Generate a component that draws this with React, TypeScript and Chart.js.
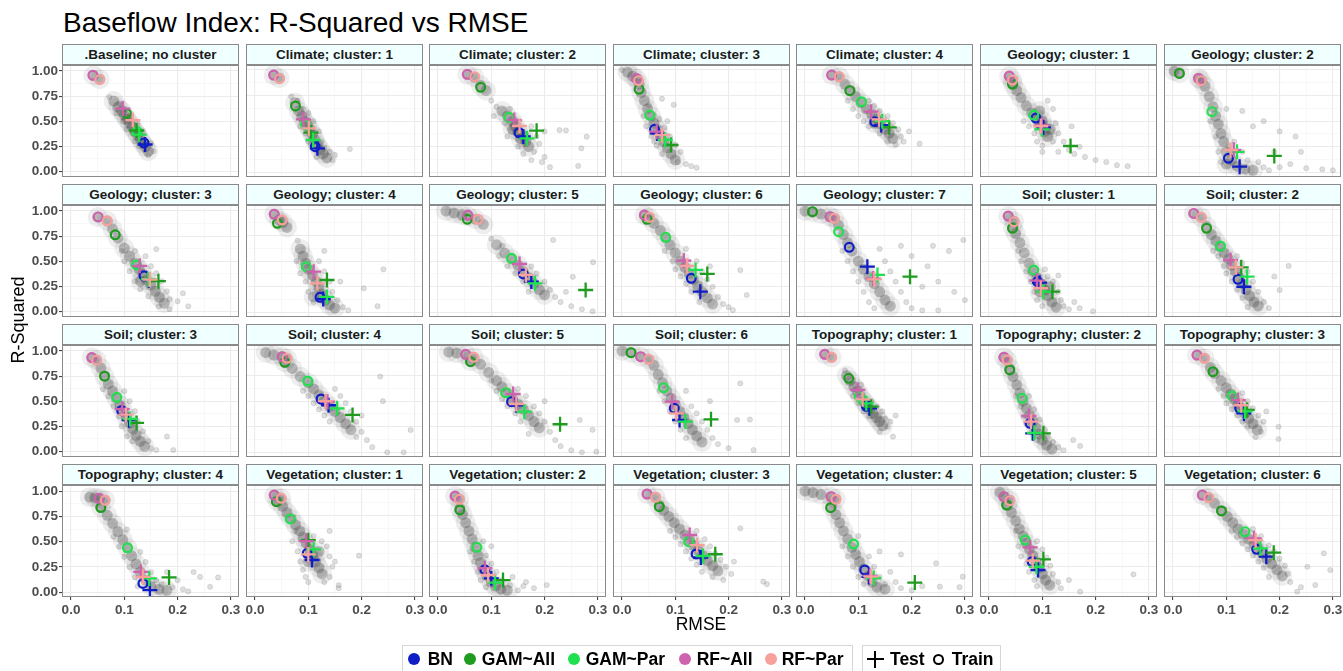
import React, { useEffect, useRef } from "react";
import { Chart, registerables } from "chart.js";
Chart.register(...registerables);

const PANEL_TITLES = [
  ".Baseline; no cluster", "Climate; cluster: 1", "Climate; cluster: 2", "Climate; cluster: 3", "Climate; cluster: 4", "Geology; cluster: 1", "Geology; cluster: 2",
  "Geology; cluster: 3", "Geology; cluster: 4", "Geology; cluster: 5", "Geology; cluster: 6", "Geology; cluster: 7", "Soil; cluster: 1", "Soil; cluster: 2",
  "Soil; cluster: 3", "Soil; cluster: 4", "Soil; cluster: 5", "Soil; cluster: 6", "Topography; cluster: 1", "Topography; cluster: 2", "Topography; cluster: 3",
  "Topography; cluster: 4", "Vegetation; cluster: 1", "Vegetation; cluster: 2", "Vegetation; cluster: 3", "Vegetation; cluster: 4", "Vegetation; cluster: 5", "Vegetation; cluster: 6",
];

const MODEL_NAMES = ["BN", "GAM~All", "GAM~Par", "RF~All", "RF~Par"];
const TYPE_NAMES = ["Test", "Train"];

const X_TICK_VALUES = [0, 0.1, 0.2, 0.3];
const X_TICK_LABELS = ["0.0", "0.1", "0.2", "0.3"];
const Y_TICK_VALUES = [0, 0.25, 0.5, 0.75, 1];
const Y_TICK_LABELS = ["0.00", "0.25", "0.50", "0.75", "1.00"];

// [RMSE, R-Squared] per panel
const BN_TRAIN = [
  [0.137, 0.283], [0.113, 0.25], [0.152, 0.387], [0.061, 0.42], [0.131, 0.495], [0.088, 0.53], [0.104, 0.137],
  [0.137, 0.355], [0.122, 0.147], [0.16, 0.375], [0.13, 0.332], [0.083, 0.635], [0.091, 0.3], [0.122, 0.322],
  [0.095, 0.407], [0.124, 0.521], [0.138, 0.495], [0.098, 0.43], [0.115, 0.45], [0.077, 0.283], [0.125, 0.43],
  [0.135, 0.088], [0.098, 0.381], [0.088, 0.22], [0.139, 0.375], [0.112, 0.218], [0.081, 0.3], [0.157, 0.42],
];
const BN_TEST = [
  [0.139, 0.267], [0.117, 0.234], [0.16, 0.35], [0.066, 0.38], [0.143, 0.462], [0.102, 0.44], [0.125, 0.055],
  [0.146, 0.31], [0.128, 0.13], [0.175, 0.3], [0.147, 0.202], [0.117, 0.446], [0.095, 0.29], [0.133, 0.25],
  [0.109, 0.31], [0.138, 0.46], [0.147, 0.46], [0.108, 0.316], [0.121, 0.43], [0.082, 0.186], [0.133, 0.38],
  [0.148, 0.022], [0.107, 0.316], [0.1, 0.137], [0.148, 0.34], [0.12, 0.15], [0.092, 0.218], [0.175, 0.348],
];
const GAM_ALL_TRAIN = [
  [0.104, 0.577], [0.076, 0.648], [0.08, 0.831], [0.032, 0.811], [0.084, 0.798], [0.044, 0.863], [0.012, 0.967],
  [0.083, 0.762], [0.042, 0.87], [0.055, 0.909], [0.047, 0.909], [0.014, 0.984], [0.044, 0.821], [0.063, 0.821],
  [0.063, 0.749], [0.056, 0.88], [0.061, 0.886], [0.017, 0.974], [0.082, 0.723], [0.039, 0.805], [0.075, 0.788],
  [0.056, 0.837], [0.04, 0.886], [0.041, 0.805], [0.07, 0.837], [0.048, 0.827], [0.033, 0.853], [0.091, 0.795],
];
const GAM_ALL_TEST = [
  [0.123, 0.407], [0.105, 0.387], [0.185, 0.407], [0.092, 0.267], [0.158, 0.44], [0.153, 0.257], [0.19, 0.16],
  [0.164, 0.3], [0.135, 0.316], [0.277, 0.218], [0.16, 0.375], [0.197, 0.348], [0.119, 0.202], [0.128, 0.44],
  [0.123, 0.283], [0.183, 0.365], [0.229, 0.274], [0.167, 0.322], [0.124, 0.446], [0.102, 0.186], [0.139, 0.414],
  [0.184, 0.147], [0.1, 0.51], [0.122, 0.12], [0.175, 0.372], [0.206, 0.095], [0.102, 0.322], [0.189, 0.387],
];
const GAM_PAR_TRAIN = [
  [0.124, 0.397], [0.095, 0.462], [0.133, 0.538], [0.052, 0.56], [0.106, 0.69], [0.084, 0.56], [0.073, 0.593],
  [0.123, 0.462], [0.096, 0.446], [0.138, 0.528], [0.082, 0.733], [0.063, 0.788], [0.084, 0.414], [0.089, 0.648],
  [0.086, 0.538], [0.099, 0.697], [0.127, 0.583], [0.078, 0.632], [0.102, 0.544], [0.062, 0.528], [0.111, 0.55],
  [0.106, 0.44], [0.066, 0.717], [0.073, 0.44], [0.125, 0.495], [0.091, 0.472], [0.068, 0.511], [0.135, 0.593],
];
const GAM_PAR_TEST = [
  [0.128, 0.365], [0.109, 0.316], [0.167, 0.332], [0.081, 0.316], [0.145, 0.5], [0.099, 0.42], [0.12, 0.2],
  [0.145, 0.32], [0.135, 0.15], [0.182, 0.283], [0.138, 0.414], [0.136, 0.365], [0.102, 0.202], [0.139, 0.348],
  [0.111, 0.322], [0.154, 0.43], [0.162, 0.397], [0.119, 0.3], [0.115, 0.479], [0.085, 0.19], [0.135, 0.4],
  [0.147, 0.137], [0.11, 0.42], [0.107, 0.095], [0.152, 0.355], [0.129, 0.14], [0.089, 0.25], [0.164, 0.43],
];
const RF_ALL_TRAIN = [
  [0.041, 0.958], [0.035, 0.951], [0.055, 0.958], [0.027, 0.918], [0.05, 0.951], [0.038, 0.941], [0.048, 0.918],
  [0.051, 0.941], [0.036, 0.958], [0.056, 0.951], [0.042, 0.951], [0.047, 0.935], [0.036, 0.941], [0.039, 0.967],
  [0.039, 0.935], [0.051, 0.935], [0.052, 0.958], [0.035, 0.935], [0.037, 0.958], [0.028, 0.928], [0.045, 0.951],
  [0.053, 0.928], [0.036, 0.951], [0.032, 0.941], [0.047, 0.961], [0.049, 0.935], [0.028, 0.935], [0.055, 0.951],
];
const RF_ALL_TEST = [
  [0.097, 0.625], [0.091, 0.518], [0.143, 0.511], [0.065, 0.397], [0.124, 0.593], [0.099, 0.462], [0.114, 0.22],
  [0.129, 0.453], [0.11, 0.397], [0.153, 0.472], [0.116, 0.505], [0.128, 0.33], [0.09, 0.31], [0.108, 0.511],
  [0.096, 0.42], [0.136, 0.495], [0.141, 0.57], [0.094, 0.495], [0.099, 0.609], [0.075, 0.355], [0.122, 0.511],
  [0.131, 0.202], [0.096, 0.501], [0.088, 0.235], [0.127, 0.56], [0.122, 0.16], [0.077, 0.44], [0.152, 0.528],
];
const RF_PAR_TRAIN = [
  [0.054, 0.915], [0.046, 0.915], [0.069, 0.935], [0.031, 0.896], [0.064, 0.935], [0.044, 0.902], [0.053, 0.896],
  [0.068, 0.902], [0.051, 0.902], [0.075, 0.909], [0.052, 0.928], [0.055, 0.919], [0.047, 0.886], [0.053, 0.928],
  [0.048, 0.909], [0.06, 0.919], [0.067, 0.928], [0.05, 0.909], [0.05, 0.928], [0.034, 0.902], [0.059, 0.919],
  [0.064, 0.909], [0.049, 0.919], [0.04, 0.909], [0.063, 0.928], [0.058, 0.909], [0.039, 0.896], [0.067, 0.925],
];
const RF_PAR_TEST = [
  [0.116, 0.511], [0.101, 0.43], [0.153, 0.453], [0.075, 0.365], [0.139, 0.518], [0.097, 0.45], [0.108, 0.218],
  [0.148, 0.316], [0.117, 0.283], [0.165, 0.365], [0.122, 0.453], [0.13, 0.322], [0.097, 0.235], [0.118, 0.44],
  [0.103, 0.365], [0.132, 0.5], [0.147, 0.472], [0.102, 0.381], [0.108, 0.518], [0.079, 0.3], [0.128, 0.46],
  [0.135, 0.153], [0.1, 0.37], [0.094, 0.169], [0.141, 0.462], [0.124, 0.153], [0.082, 0.309], [0.155, 0.51],
];

// resampled runs (grey cloud): dense band points
const CLOUD_CORE = [
  [[0.042,0.955],[0.054,0.918],[0.08,0.7],[0.088,0.64],[0.095,0.6],[0.1,0.56],[0.105,0.52],[0.11,0.48],[0.115,0.44],[0.12,0.4],[0.125,0.36],[0.13,0.32],[0.135,0.28],[0.14,0.24],[0.145,0.2]],
  [[0.035,0.95],[0.046,0.92],[0.075,0.68],[0.082,0.6],[0.088,0.55],[0.093,0.5],[0.098,0.46],[0.103,0.42],[0.108,0.37],[0.112,0.32],[0.117,0.27],[0.122,0.22],[0.128,0.18],[0.135,0.14]],
  [[0.055,0.955],[0.068,0.93],[0.08,0.85],[0.09,0.8],[0.12,0.6],[0.13,0.55],[0.14,0.5],[0.145,0.45],[0.15,0.4],[0.16,0.36],[0.165,0.3],[0.17,0.25],[0.155,0.33],[0.14,0.42]],
  [[0.01,0.98],[0.02,0.94],[0.027,0.915],[0.032,0.86],[0.036,0.78],[0.042,0.7],[0.048,0.62],[0.055,0.55],[0.06,0.48],[0.066,0.42],[0.072,0.36],[0.078,0.3],[0.085,0.24],[0.092,0.18],[0.1,0.12]],
  [[0.05,0.95],[0.064,0.935],[0.075,0.86],[0.085,0.8],[0.095,0.74],[0.105,0.68],[0.115,0.62],[0.125,0.57],[0.135,0.52],[0.142,0.47],[0.15,0.42],[0.158,0.38],[0.165,0.33],[0.13,0.48]],
  [[0.038,0.94],[0.044,0.9],[0.045,0.86],[0.052,0.8],[0.06,0.73],[0.07,0.65],[0.08,0.58],[0.09,0.52],[0.1,0.46],[0.105,0.4],[0.11,0.35],[0.1,0.5],[0.115,0.42],[0.095,0.6]],
  [[0.002,0.99],[0.012,0.97],[0.048,0.92],[0.053,0.9],[0.06,0.84],[0.068,0.74],[0.075,0.64],[0.08,0.55],[0.085,0.47],[0.09,0.38],[0.095,0.3],[0.1,0.2],[0.11,0.12],[0.12,0.06],[0.135,0.03],[0.15,0.02],[0.1,0.08]],
  [[0.05,0.94],[0.068,0.9],[0.078,0.82],[0.088,0.73],[0.1,0.63],[0.11,0.55],[0.12,0.48],[0.128,0.42],[0.135,0.37],[0.142,0.31],[0.15,0.26],[0.158,0.2],[0.166,0.14],[0.175,0.08],[0.13,0.3]],
  [[0.036,0.96],[0.045,0.9],[0.052,0.88],[0.06,0.83],[0.085,0.62],[0.09,0.55],[0.095,0.48],[0.1,0.42],[0.108,0.36],[0.115,0.3],[0.12,0.24],[0.125,0.18],[0.132,0.12],[0.14,0.07],[0.15,0.04],[0.11,0.15]],
  [[0.015,0.99],[0.03,0.97],[0.045,0.95],[0.056,0.94],[0.07,0.91],[0.085,0.86],[0.11,0.66],[0.125,0.58],[0.138,0.52],[0.15,0.46],[0.16,0.4],[0.17,0.34],[0.18,0.28],[0.19,0.22],[0.2,0.17]],
  [[0.042,0.95],[0.05,0.93],[0.06,0.87],[0.072,0.8],[0.082,0.73],[0.09,0.66],[0.1,0.58],[0.11,0.5],[0.118,0.44],[0.126,0.38],[0.134,0.32],[0.142,0.26],[0.15,0.2],[0.16,0.14],[0.17,0.08]],
  [[0.0,0.99],[0.014,0.98],[0.03,0.96],[0.047,0.935],[0.055,0.92],[0.063,0.85],[0.072,0.76],[0.08,0.68],[0.088,0.6],[0.1,0.5],[0.11,0.42],[0.12,0.35],[0.13,0.28],[0.14,0.2],[0.15,0.12],[0.16,0.06]],
  [[0.036,0.94],[0.047,0.89],[0.045,0.83],[0.05,0.77],[0.058,0.68],[0.066,0.58],[0.075,0.48],[0.082,0.4],[0.09,0.34],[0.097,0.28],[0.104,0.22],[0.11,0.16],[0.118,0.1],[0.126,0.05],[0.095,0.2],[0.115,0.25]],
  [[0.039,0.965],[0.053,0.93],[0.063,0.84],[0.072,0.76],[0.08,0.7],[0.088,0.64],[0.096,0.58],[0.104,0.52],[0.11,0.46],[0.117,0.4],[0.124,0.34],[0.13,0.28],[0.137,0.22],[0.144,0.16],[0.152,0.1],[0.16,0.06]],
  [[0.039,0.935],[0.048,0.91],[0.056,0.83],[0.063,0.75],[0.07,0.67],[0.078,0.6],[0.085,0.53],[0.092,0.46],[0.098,0.4],[0.104,0.34],[0.11,0.28],[0.116,0.22],[0.122,0.16],[0.13,0.1],[0.138,0.05]],
  [[0.02,0.975],[0.035,0.95],[0.051,0.935],[0.06,0.915],[0.056,0.88],[0.07,0.82],[0.085,0.74],[0.1,0.68],[0.11,0.62],[0.12,0.56],[0.13,0.5],[0.14,0.45],[0.15,0.4],[0.16,0.34],[0.17,0.28],[0.18,0.22]],
  [[0.02,0.98],[0.035,0.97],[0.052,0.955],[0.067,0.93],[0.061,0.89],[0.08,0.86],[0.095,0.78],[0.11,0.7],[0.12,0.64],[0.13,0.58],[0.14,0.52],[0.15,0.47],[0.16,0.42],[0.17,0.36],[0.18,0.3],[0.19,0.24]],
  [[0.0,0.99],[0.017,0.975],[0.035,0.935],[0.05,0.91],[0.06,0.85],[0.068,0.76],[0.076,0.68],[0.084,0.6],[0.092,0.53],[0.1,0.46],[0.108,0.4],[0.116,0.34],[0.124,0.28],[0.132,0.22],[0.14,0.16],[0.15,0.1]],
  [[0.037,0.958],[0.05,0.928],[0.078,0.75],[0.085,0.7],[0.092,0.64],[0.098,0.6],[0.104,0.55],[0.11,0.5],[0.116,0.46],[0.122,0.42],[0.128,0.38],[0.134,0.34],[0.14,0.3],[0.146,0.26]],
  [[0.028,0.93],[0.034,0.9],[0.039,0.82],[0.045,0.74],[0.052,0.66],[0.058,0.58],[0.064,0.5],[0.07,0.43],[0.076,0.36],[0.082,0.3],[0.088,0.24],[0.094,0.18],[0.1,0.12],[0.108,0.07],[0.118,0.03]],
  [[0.045,0.95],[0.059,0.92],[0.07,0.83],[0.078,0.77],[0.09,0.7],[0.1,0.63],[0.108,0.57],[0.115,0.52],[0.122,0.47],[0.128,0.43],[0.135,0.38],[0.142,0.33],[0.15,0.28],[0.158,0.22]],
  [[0.035,0.94],[0.045,0.935],[0.053,0.93],[0.064,0.91],[0.056,0.84],[0.068,0.76],[0.078,0.68],[0.088,0.6],[0.097,0.52],[0.106,0.44],[0.114,0.36],[0.122,0.28],[0.13,0.2],[0.14,0.12],[0.15,0.06],[0.165,0.03],[0.18,0.02]],
  [[0.036,0.95],[0.049,0.92],[0.042,0.89],[0.052,0.84],[0.06,0.78],[0.068,0.72],[0.076,0.66],[0.084,0.6],[0.09,0.54],[0.096,0.48],[0.102,0.42],[0.108,0.36],[0.114,0.3],[0.12,0.24],[0.126,0.18],[0.1,0.3],[0.12,0.4]],
  [[0.032,0.94],[0.04,0.91],[0.041,0.82],[0.046,0.76],[0.052,0.68],[0.058,0.6],[0.064,0.52],[0.07,0.44],[0.075,0.36],[0.08,0.29],[0.086,0.22],[0.092,0.16],[0.1,0.1],[0.108,0.06],[0.118,0.03],[0.13,0.02]],
  [[0.047,0.96],[0.063,0.93],[0.07,0.85],[0.078,0.8],[0.088,0.74],[0.098,0.68],[0.108,0.62],[0.118,0.56],[0.127,0.51],[0.135,0.46],[0.143,0.41],[0.151,0.36],[0.16,0.31],[0.17,0.26],[0.18,0.21]],
  [[0.0,0.99],[0.015,0.975],[0.03,0.955],[0.049,0.935],[0.058,0.91],[0.05,0.84],[0.058,0.76],[0.065,0.68],[0.072,0.6],[0.08,0.52],[0.088,0.44],[0.095,0.37],[0.102,0.3],[0.11,0.23],[0.118,0.16],[0.126,0.1],[0.135,0.05],[0.15,0.03]],
  [[0.02,0.98],[0.028,0.935],[0.039,0.9],[0.035,0.85],[0.042,0.78],[0.05,0.7],[0.057,0.62],[0.064,0.55],[0.07,0.48],[0.076,0.42],[0.082,0.36],[0.088,0.3],[0.094,0.24],[0.1,0.18],[0.106,0.12],[0.114,0.07]],
  [[0.055,0.95],[0.067,0.925],[0.078,0.87],[0.091,0.8],[0.102,0.74],[0.112,0.68],[0.122,0.62],[0.132,0.57],[0.142,0.52],[0.152,0.47],[0.16,0.43],[0.168,0.38],[0.176,0.33],[0.185,0.28],[0.195,0.22],[0.205,0.16]],
];

// resampled runs (grey cloud): scattered points
const CLOUD_SPARSE = [
  [[0.072,0.74],[0.09,0.68],[0.085,0.58],[0.1,0.62],[0.11,0.55],[0.098,0.5],[0.125,0.47],[0.115,0.38],[0.135,0.4],[0.128,0.25],[0.15,0.28],[0.145,0.16],[0.155,0.2],[0.14,0.3],[0.12,0.3],[0.105,0.42]],
  [[0.068,0.74],[0.08,0.7],[0.09,0.62],[0.1,0.58],[0.085,0.45],[0.11,0.5],[0.095,0.38],[0.12,0.4],[0.105,0.28],[0.125,0.3],[0.13,0.24],[0.14,0.2],[0.115,0.15],[0.145,0.12],[0.15,0.17],[0.178,0.228],[0.1,0.3]],
  [[0.1,0.7],[0.11,0.64],[0.105,0.55],[0.125,0.48],[0.135,0.62],[0.175,0.45],[0.185,0.35],[0.19,0.28],[0.18,0.2],[0.16,0.18],[0.175,0.12],[0.195,0.1],[0.2,0.15],[0.15,0.25],[0.13,0.35],[0.228,0.413],[0.24,0.41],[0.279,0.348],[0.269,0.235],[0.263,0.062],[0.21,0.05],[0.2,0.4]],
  [[0.0,1.0],[0.05,0.66],[0.04,0.55],[0.07,0.52],[0.045,0.45],[0.08,0.44],[0.055,0.35],[0.09,0.35],[0.065,0.26],[0.1,0.27],[0.075,0.18],[0.11,0.2],[0.105,0.1],[0.12,0.08],[0.13,0.06],[0.14,0.045],[0.085,0.5],[0.075,0.72],[0.06,0.3],[0.097,0.66]],
  [[0.08,0.7],[0.09,0.62],[0.1,0.55],[0.11,0.5],[0.12,0.45],[0.13,0.65],[0.14,0.6],[0.155,0.55],[0.165,0.48],[0.175,0.42],[0.18,0.35],[0.17,0.27],[0.155,0.3],[0.185,0.3],[0.195,0.4],[0.215,0.28],[0.14,0.38],[0.12,0.7]],
  [[0.065,0.5],[0.075,0.45],[0.085,0.38],[0.09,0.3],[0.1,0.26],[0.12,0.3],[0.125,0.48],[0.13,0.38],[0.12,0.62],[0.11,0.7],[0.14,0.3],[0.15,0.22],[0.16,0.18],[0.17,0.25],[0.18,0.15],[0.2,0.12],[0.22,0.1],[0.24,0.07],[0.26,0.06],[0.155,0.45],[0.13,0.2],[0.1,0.2]],
  [[0.07,0.5],[0.08,0.35],[0.085,0.2],[0.09,0.1],[0.105,0.25],[0.115,0.3],[0.13,0.2],[0.14,0.12],[0.16,0.1],[0.17,0.05],[0.18,0.02],[0.2,0.05],[0.22,0.08],[0.25,0.04],[0.28,0.03],[0.3,0.02],[0.15,0.45],[0.17,0.5],[0.2,0.4],[0.23,0.35],[0.13,0.6],[0.1,0.62],[0.19,0.2],[0.24,0.2]],
  [[0.095,0.6],[0.1,0.5],[0.11,0.4],[0.12,0.6],[0.14,0.55],[0.15,0.45],[0.16,0.38],[0.17,0.3],[0.18,0.2],[0.185,0.12],[0.2,0.1],[0.21,0.18],[0.145,0.15],[0.13,0.22],[0.12,0.3],[0.165,0.05],[0.185,0.02],[0.22,0.05],[0.16,0.62]],
  [[0.08,0.7],[0.078,0.5],[0.085,0.38],[0.095,0.3],[0.1,0.2],[0.12,0.5],[0.13,0.4],[0.14,0.3],[0.145,0.2],[0.155,0.12],[0.165,0.05],[0.175,0.02],[0.13,0.6],[0.11,0.1],[0.241,0.42],[0.23,0.06],[0.204,0.235],[0.16,0.3]],
  [[0.1,0.72],[0.12,0.65],[0.115,0.55],[0.13,0.45],[0.145,0.38],[0.16,0.3],[0.175,0.45],[0.185,0.38],[0.2,0.3],[0.21,0.22],[0.22,0.15],[0.23,0.1],[0.25,0.06],[0.27,0.03],[0.29,0.01],[0.216,0.707],[0.291,0.49],[0.253,0.347],[0.24,0.2],[0.17,0.2]],
  [[0.08,0.6],[0.095,0.5],[0.1,0.42],[0.11,0.35],[0.12,0.28],[0.13,0.2],[0.14,0.5],[0.15,0.4],[0.16,0.32],[0.17,0.25],[0.18,0.15],[0.19,0.08],[0.2,0.05],[0.165,0.45],[0.222,0.413],[0.234,0.169],[0.208,0.022],[0.12,0.62],[0.145,0.1]],
  [[0.07,0.6],[0.08,0.5],[0.09,0.4],[0.1,0.3],[0.11,0.2],[0.12,0.1],[0.13,0.04],[0.15,0.5],[0.16,0.4],[0.17,0.3],[0.18,0.2],[0.19,0.1],[0.2,0.04],[0.22,0.02],[0.25,0.02],[0.2,0.55],[0.23,0.45],[0.25,0.3],[0.28,0.2],[0.3,0.12],[0.27,0.6],[0.297,0.707],[0.24,0.65],[0.14,0.62],[0.18,0.65],[0.22,0.25]],
  [[0.06,0.5],[0.07,0.4],[0.078,0.3],[0.085,0.2],[0.09,0.12],[0.1,0.06],[0.11,0.35],[0.12,0.3],[0.13,0.2],[0.135,0.12],[0.14,0.06],[0.15,0.03],[0.16,0.1],[0.17,0.04],[0.195,0.01],[0.13,0.36],[0.105,0.42],[0.055,0.6]],
  [[0.085,0.55],[0.095,0.45],[0.1,0.38],[0.11,0.3],[0.12,0.22],[0.13,0.14],[0.12,0.55],[0.13,0.48],[0.14,0.4],[0.15,0.3],[0.16,0.2],[0.17,0.1],[0.18,0.04],[0.217,0.453],[0.2,0.218],[0.19,0.35],[0.075,0.6],[0.14,0.05]],
  [[0.07,0.55],[0.08,0.45],[0.09,0.35],[0.095,0.25],[0.105,0.15],[0.1,0.6],[0.11,0.5],[0.12,0.4],[0.125,0.3],[0.135,0.2],[0.145,0.1],[0.15,0.03],[0.18,0.147],[0.192,0.013],[0.16,0.013],[0.115,0.1],[0.06,0.62]],
  [[0.09,0.6],[0.1,0.55],[0.11,0.48],[0.12,0.42],[0.13,0.36],[0.14,0.3],[0.15,0.62],[0.16,0.55],[0.17,0.48],[0.18,0.4],[0.19,0.3],[0.2,0.2],[0.21,0.12],[0.22,0.05],[0.235,0.74],[0.292,0.218],[0.279,0.0],[0.248,0.0],[0.24,0.5],[0.19,0.15],[0.2,0.36]],
  [[0.1,0.7],[0.11,0.6],[0.12,0.52],[0.13,0.45],[0.145,0.38],[0.155,0.3],[0.15,0.62],[0.165,0.55],[0.18,0.45],[0.19,0.38],[0.2,0.3],[0.21,0.2],[0.22,0.12],[0.23,0.06],[0.25,0.02],[0.27,0.0],[0.297,0.006],[0.266,0.316],[0.29,0.22],[0.2,0.5],[0.17,0.18]],
  [[0.07,0.6],[0.08,0.5],[0.09,0.4],[0.1,0.3],[0.11,0.22],[0.12,0.14],[0.13,0.45],[0.14,0.38],[0.15,0.3],[0.16,0.22],[0.17,0.14],[0.18,0.08],[0.2,0.04],[0.222,0.674],[0.247,0.022],[0.216,0.316],[0.24,0.32],[0.12,0.6],[0.165,0.5]],
  [[0.075,0.8],[0.09,0.55],[0.1,0.48],[0.11,0.4],[0.12,0.35],[0.125,0.5],[0.135,0.45],[0.145,0.4],[0.15,0.33],[0.155,0.25],[0.165,0.153],[0.14,0.2],[0.16,0.3],[0.17,0.36],[0.105,0.66]],
  [[0.05,0.55],[0.06,0.45],[0.065,0.35],[0.07,0.28],[0.08,0.2],[0.09,0.12],[0.085,0.42],[0.095,0.32],[0.105,0.22],[0.11,0.15],[0.12,0.1],[0.13,0.05],[0.14,0.02],[0.158,0.12],[0.171,0.062],[0.075,0.55]],
  [[0.095,0.55],[0.1,0.48],[0.11,0.42],[0.12,0.36],[0.13,0.3],[0.14,0.25],[0.13,0.58],[0.14,0.5],[0.15,0.43],[0.16,0.36],[0.17,0.3],[0.165,0.2],[0.155,0.15],[0.198,0.25],[0.198,0.13],[0.175,0.4],[0.085,0.62]],
  [[0.08,0.55],[0.09,0.45],[0.1,0.35],[0.11,0.25],[0.12,0.15],[0.125,0.06],[0.13,0.4],[0.14,0.3],[0.15,0.2],[0.16,0.12],[0.17,0.08],[0.19,0.05],[0.2,0.12],[0.21,0.03],[0.23,0.2],[0.242,0.153],[0.261,0.055],[0.276,0.147],[0.22,0.01],[0.105,0.62],[0.18,0.2]],
  [[0.07,0.5],[0.08,0.4],[0.085,0.3],[0.09,0.22],[0.095,0.15],[0.1,0.1],[0.11,0.55],[0.125,0.5],[0.135,0.45],[0.14,0.35],[0.145,0.25],[0.14,0.15],[0.13,0.1],[0.15,0.3],[0.195,0.358],[0.157,0.07],[0.157,0.04],[0.14,0.6],[0.075,0.6]],
  [[0.06,0.4],[0.068,0.3],[0.075,0.2],[0.08,0.12],[0.09,0.05],[0.09,0.36],[0.1,0.28],[0.11,0.2],[0.12,0.12],[0.135,0.07],[0.15,0.02],[0.16,0.06],[0.18,0.04],[0.204,0.071],[0.085,0.5],[0.1,0.45],[0.165,0.1],[0.14,0.15]],
  [[0.09,0.6],[0.1,0.54],[0.11,0.47],[0.12,0.4],[0.13,0.33],[0.14,0.27],[0.15,0.2],[0.14,0.6],[0.155,0.52],[0.165,0.45],[0.175,0.38],[0.185,0.32],[0.195,0.25],[0.205,0.18],[0.19,0.12],[0.222,0.626],[0.265,0.104],[0.272,0.08],[0.21,0.3],[0.17,0.15]],
  [[0.07,0.45],[0.08,0.35],[0.09,0.25],[0.1,0.15],[0.11,0.08],[0.12,0.35],[0.13,0.25],[0.14,0.15],[0.15,0.08],[0.16,0.2],[0.17,0.1],[0.18,0.04],[0.2,0.02],[0.22,0.06],[0.18,0.37],[0.246,0.283],[0.253,0.055],[0.29,0.05],[0.296,0.153],[0.1,0.55],[0.14,0.4]],
  [[0.055,0.45],[0.06,0.35],[0.07,0.28],[0.075,0.2],[0.085,0.12],[0.09,0.06],[0.09,0.5],[0.1,0.42],[0.108,0.34],[0.115,0.26],[0.12,0.18],[0.13,0.1],[0.135,0.04],[0.15,0.12],[0.171,0.006],[0.271,0.176],[0.05,0.6]],
  [[0.11,0.6],[0.12,0.54],[0.13,0.48],[0.14,0.42],[0.15,0.36],[0.16,0.3],[0.17,0.24],[0.15,0.62],[0.165,0.55],[0.18,0.46],[0.19,0.4],[0.2,0.33],[0.21,0.26],[0.215,0.18],[0.22,0.1],[0.24,0.05],[0.283,0.381],[0.295,0.218],[0.267,0.071],[0.252,0.25],[0.233,0.006],[0.18,0.15]],
];

const TRAIN_SERIES = [BN_TRAIN, GAM_ALL_TRAIN, GAM_PAR_TRAIN, RF_ALL_TRAIN, RF_PAR_TRAIN];
const TEST_SERIES = [BN_TEST, GAM_ALL_TEST, GAM_PAR_TEST, RF_ALL_TEST, RF_PAR_TEST];

// ---- styles / layout ----
const COLORS = ["#0f1ec4", "#1f9c1f", "#21e04f", "#cf62ae", "#f7a09c"];
const FONT = "'Liberation Sans', Arial, Helvetica, sans-serif";
const PW = 177;
const PH = 112;
const PAD = 8;
const COL_LEFT = [62, 246, 429, 613, 796, 980, 1164];
const ROW_TOP = [65, 205, 345, 485];
const STRIP_H = 21;
const X_MIN = -0.0169;
const X_MAX = 0.3152;
const Y_MIN = -0.0459;
const Y_MAX = 1.0489;
const GRID_MAJOR = "#EBEBEB";
const GRID_MINOR = "#F3F3F3";
const BORDER = "#8a8a8a";

const findIdx = (arr: number[], v: number) => arr.findIndex((a) => Math.abs(a - v) < 1e-6);

function Panel({ idx }: { idx: number }) {
  const ref = useRef<HTMLCanvasElement | null>(null);
  const col = idx % 7;
  const row = Math.floor(idx / 7);
  const showY = col === 0;
  const showX = row === 3;
  const axW = showY ? 46 : 0;
  const axH = showX ? 22 : 0;
  const cw = axW + PAD * 2 + PW;
  const ch = PAD * 2 + PH + axH;
  const left = COL_LEFT[col] - PAD - axW;
  const top = ROW_TOP[row] - PAD;

  useEffect(() => {
    if (!ref.current) return;
    const toPts = (a: number[][]) => a.map(([x, y]) => ({ x, y }));
    const datasets: any[] = [];
    TEST_SERIES.forEach((s, m) => {
      datasets.push({
        label: MODEL_NAMES[m] + " " + TYPE_NAMES[0],
        data: toPts([s[idx]]),
        pointStyle: "cross",
        pointRadius: 7.5,
        pointBorderWidth: 2.3,
        pointBorderColor: COLORS[m],
        pointBackgroundColor: COLORS[m],
        order: 10 - m,
        clip: 0,
      });
    });
    TRAIN_SERIES.forEach((s, m) => {
      datasets.push({
        label: MODEL_NAMES[m] + " " + TYPE_NAMES[1],
        data: toPts([s[idx]]),
        pointStyle: "circle",
        pointRadius: 4.4,
        pointBorderWidth: 2.2,
        pointBorderColor: COLORS[m],
        pointBackgroundColor: "rgba(0,0,0,0)",
        order: 20 - m,
        clip: 0,
      });
    });
    datasets.push({
      label: "cloud-core",
      data: toPts(CLOUD_CORE[idx]),
      pointStyle: "circle",
      pointRadius: 5.5,
      pointBorderWidth: 0,
      pointBackgroundColor: "rgba(60,60,60,0.3)",
      order: 50,
      clip: 0,
    });
    datasets.push({
      label: "cloud-halo",
      data: toPts(CLOUD_CORE[idx]),
      pointStyle: "circle",
      pointRadius: 10,
      pointBorderWidth: 0,
      pointBackgroundColor: "rgba(90,90,90,0.1)",
      order: 55,
      clip: 0,
    });
    datasets.push({
      label: "cloud-sparse",
      data: toPts(CLOUD_SPARSE[idx]),
      pointStyle: "circle",
      pointRadius: 2.6,
      pointBorderWidth: 0.6,
      pointBorderColor: "rgba(90,90,90,0.25)",
      pointBackgroundColor: "rgba(110,110,110,0.22)",
      order: 60,
      clip: 0,
    });

    const tickFont = { family: FONT, size: 13.5, weight: "bold" as const };
    const chart = new Chart(ref.current, {
      type: "scatter",
      data: { datasets },
      options: {
        responsive: false,
        animation: false,
        events: [],
        layout: { padding: { left: PAD, right: PAD, top: PAD, bottom: PAD }, autoPadding: false },
        plugins: { legend: { display: false }, tooltip: { enabled: false } },
        scales: {
          x: {
            type: "linear",
            min: X_MIN,
            max: X_MAX,
            afterFit: (s: any) => { s.height = axH; },
            ticks: {
              display: showX,
              stepSize: 0.05,
              includeBounds: false,
              autoSkip: false,
              maxRotation: 0,
              padding: 2,
              color: "#4D4D4D",
              font: tickFont,
              callback: (v: any) => { const i = findIdx(X_TICK_VALUES, Number(v)); return i >= 0 ? X_TICK_LABELS[i] : ""; },
            },
            grid: {
              color: (c: any) => (findIdx(X_TICK_VALUES, c.tick?.value) >= 0 ? GRID_MAJOR : GRID_MINOR),
              lineWidth: (c: any) => (findIdx(X_TICK_VALUES, c.tick?.value) >= 0 ? 1.1 : 0.6),
              drawTicks: showX,
              tickLength: 3,
              tickWidth: 1.1,
              tickColor: (c: any) => (findIdx(X_TICK_VALUES, c.tick?.value) >= 0 ? "#444" : "rgba(0,0,0,0)"),
            },
            border: { display: false },
          },
          y: {
            type: "linear",
            min: Y_MIN,
            max: Y_MAX,
            afterFit: (s: any) => { s.width = axW; },
            ticks: {
              display: showY,
              stepSize: 0.125,
              includeBounds: false,
              autoSkip: false,
              padding: 1,
              color: "#4D4D4D",
              font: tickFont,
              callback: (v: any) => { const i = findIdx(Y_TICK_VALUES, Number(v)); return i >= 0 ? Y_TICK_LABELS[i] : ""; },
            },
            grid: {
              color: (c: any) => (findIdx(Y_TICK_VALUES, c.tick?.value) >= 0 ? GRID_MAJOR : GRID_MINOR),
              lineWidth: (c: any) => (findIdx(Y_TICK_VALUES, c.tick?.value) >= 0 ? 1.1 : 0.6),
              drawTicks: showY,
              tickLength: 3,
              tickWidth: 1.1,
              tickColor: (c: any) => (findIdx(Y_TICK_VALUES, c.tick?.value) >= 0 ? "#444" : "rgba(0,0,0,0)"),
            },
            border: { display: false },
          },
        },
      },
    });
    return () => chart.destroy();
  }, [idx]);

  const L = COL_LEFT[col];
  const T = ROW_TOP[row];
  return (
    <>
      <canvas ref={ref} width={cw} height={ch} style={{ position: "absolute", left, top, width: cw, height: ch }} />
      <div style={{ position: "absolute", left: L, top: T, width: PW, height: PH, border: `1px solid ${BORDER}`, boxSizing: "border-box", pointerEvents: "none" }} />
      <div
        style={{
          position: "absolute", left: L, top: T - STRIP_H, width: PW, height: STRIP_H, background: "#F0FFFF",
          border: `1px solid ${BORDER}`, boxSizing: "border-box", font: `bold 13.5px ${FONT}`, color: "#1A1A1A",
          textAlign: "center", lineHeight: `${STRIP_H - 2}px`, whiteSpace: "nowrap", overflow: "hidden",
        }}
      >
        {PANEL_TITLES[idx]}
      </div>
    </>
  );
}

function Legend() {
  const cy = 659;
  const items = [
    { cx: 414.3, tx: 427.7 },
    { cx: 470, tx: 481.7 },
    { cx: 574, tx: 585.7 },
    { cx: 685, tx: 696.7 },
    { cx: 770.7, tx: 781.7 },
  ];
  const text = (x: number, s: string) => (
    <div key={s} style={{ position: "absolute", left: x, top: cy - 9, font: `bold 17.5px ${FONT}`, lineHeight: "18px", color: "#000", whiteSpace: "nowrap" }}>{s}</div>
  );
  return (
    <>
      <div style={{ position: "absolute", left: 402, top: 645, width: 451, height: 34, border: "1px solid #d6d6d6", boxSizing: "border-box" }} />
      <div style={{ position: "absolute", left: 862, top: 645, width: 139, height: 34, border: "1px solid #d6d6d6", boxSizing: "border-box" }} />
      {items.map((it, m) => (
        <React.Fragment key={m}>
          <div style={{ position: "absolute", left: it.cx - 6, top: cy - 6, width: 12, height: 12, borderRadius: 6, background: COLORS[m] }} />
          {text(it.tx, MODEL_NAMES[m])}
        </React.Fragment>
      ))}
      <div style={{ position: "absolute", left: 875 - 8.5, top: cy - 1.2, width: 17, height: 2.4, background: "#000" }} />
      <div style={{ position: "absolute", left: 875 - 1.2, top: cy - 8.5, width: 2.4, height: 17, background: "#000" }} />
      {text(890, TYPE_NAMES[0])}
      <div style={{ position: "absolute", left: 938.3 - 5.5, top: cy - 5.5, width: 11, height: 11, borderRadius: 6, border: "2.3px solid #000", boxSizing: "border-box" }} />
      {text(951.7, TYPE_NAMES[1])}
    </>
  );
}

export default function App() {
  return (
    <div style={{ position: "fixed", left: 0, top: 0, width: 1343, height: 671, background: "#fff", overflow: "hidden", fontFamily: FONT }}>
      <div style={{ position: "absolute", left: 63, top: 8.5, font: `28px ${FONT}`, lineHeight: "28px", color: "#000", whiteSpace: "nowrap" }}>
        Baseflow Index: R-Squared vs RMSE
      </div>
      {PANEL_TITLES.map((_, i) => (
        <Panel key={i} idx={i} />
      ))}
      <div style={{ position: "absolute", left: 601, top: 616, width: 200, textAlign: "center", font: `17.5px ${FONT}`, lineHeight: "17px", color: "#000" }}>RMSE</div>
      <div style={{ position: "absolute", left: 18 - 100, top: 320 - 10, width: 200, height: 20, textAlign: "center", font: `18px ${FONT}`, lineHeight: "20px", color: "#000", transform: "rotate(-90deg)" }}>R-Squared</div>
      <Legend />
    </div>
  );
}
